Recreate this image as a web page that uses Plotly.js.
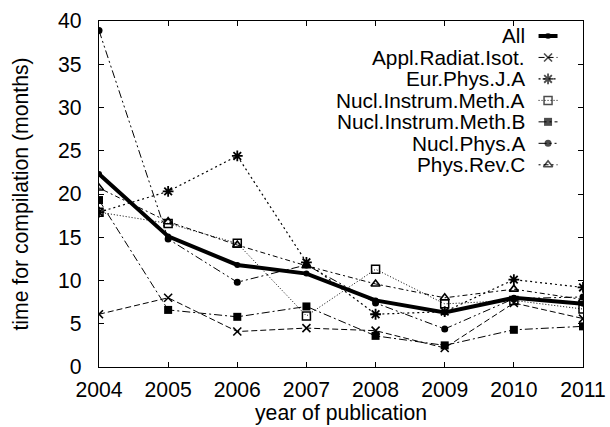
<!DOCTYPE html>
<html>
<head>
<meta charset="utf-8">
<script src="https://cdn.plot.ly/plotly-3.0.1.min.js"></script>
<style>html,body{margin:0;padding:0;background:#fff;}#chart{width:610px;height:427px;}</style>
</head>
<body>
<div id="chart"></div>
<script>
const years = [2004, 2005, 2006, 2007, 2008, 2009, 2010, 2011];
const seriesNames = ["All", "Appl.Radiat.Isot.", "Eur.Phys.J.A", "Nucl.Instrum.Meth.A", "Nucl.Instrum.Meth.B", "Nucl.Phys.A", "Phys.Rev.C"];
const allJournals = [22.3, 15.1, 11.8, 10.8, 7.7, 6.3, 8.0, 7.3];
const applRadiatIsot = [6.1, 8.0, 4.1, 4.5, 4.2, 2.2, 7.4, 5.6];
const eurPhysJA = [17.9, 20.3, 24.4, 12.1, 6.1, 6.4, 10.1, 9.2];
const nuclInstrumMethA = [17.9, 16.6, 14.3, 5.9, 11.3, 7.3, 7.7, 6.7];
const nuclInstrumMethB = [19.3, 6.6, 5.8, 7.0, 3.6, 2.5, 4.3, 4.7];
const nuclPhysA = [38.9, 14.8, 9.8, 11.8, 7.4, 4.4, 7.9, 8.1];
const physRevC = [20.7, 16.8, 14.1, 11.7, 9.6, 8.0, 9.0, 7.8];
const yTicks = [0, 5, 10, 15, 20, 25, 30, 35, 40];
const yTickLabels = ["0", "5", "10", "15", "20", "25", "30", "35", "40"];

const values = [allJournals, applRadiatIsot, eurPhysJA, nuclInstrumMethA, nuclInstrumMethB, nuclPhysA, physRevC];
const styles = [
  {dash: "solid", width: 4, symbol: "circle", size: 6, mlw: 0},
  {dash: "6px,3px", width: 1, symbol: "x-thin", size: 8, mlw: 1.6},
  {dash: "2px,3px", width: 1.2, symbol: "asterisk-open", size: 9, mlw: 1.8},
  {dash: "1px,2px", width: 1, symbol: "square-open", size: 8, mlw: 1.5},
  {dash: "8px,3px,2px,3px", width: 1, symbol: "square", size: 8, mlw: 0},
  {dash: "8px,3px,2px,3px,2px,3px", width: 1, symbol: "circle", size: 7, mlw: 0},
  {dash: "2px,3px,5px,3px", width: 1, symbol: "triangle-up-open", size: 8, mlw: 1.6}
];

const font = "Liberation Sans, Arial, sans-serif";
const fs = 21.2;
const legendFs = 20.8;
const traces = [];
values.forEach((v, i) => {
  const s = styles[i];
  traces.push({
    x: years, y: v, type: "scatter", mode: "lines+markers", name: seriesNames[i],
    line: {color: "#000", width: s.width, dash: s.dash},
    marker: {symbol: s.symbol, size: s.size, color: "#000", line: {color: "#000", width: s.mlw}},
    showlegend: false, hoverinfo: "skip"
  });
});

// legend (gnuplot style: right-aligned text, sample to the right)
const plotL = 99, plotR = 583.5, plotT = 21, plotB = 367.5;
const rowY = [36, 57.5, 79, 100.5, 122, 143.5, 165];
const sx0 = 539, sx1 = 558;
const px2x = p => (p - plotL) / (plotR - plotL);
const py2y = p => (plotB - p) / (plotB - plotT);
const annotations = [];
seriesNames.forEach((n, i) => {
  const s = styles[i];
  const yy = py2y(rowY[i]);
  traces.push({
    x: [px2x(sx0), px2x((sx0 + sx1) / 2), px2x(sx1)], y: [yy, yy, yy],
    xaxis: "x2", yaxis: "y2", type: "scatter", mode: "lines+markers",
    line: {color: "#000", width: s.width, dash: s.dash},
    marker: {symbol: s.symbol, size: [0, s.size, 0], color: "#000", line: {color: "#000", width: s.mlw}},
    showlegend: false, hoverinfo: "skip"
  });
  annotations.push({
    xref: "paper", yref: "paper", x: px2x(526), y: yy, xanchor: "right", yanchor: "middle",
    borderpad: 0,
    text: n, showarrow: false, font: {family: font, size: legendFs, color: "#000"}
  });
});

const layout = {
  width: 610, height: 427,
  margin: {l: plotL, r: 610 - plotR, t: plotT, b: 427 - plotB, pad: 0},
  paper_bgcolor: "#fff", plot_bgcolor: "#fff",
  font: {family: font, size: fs, color: "#000"},
  showlegend: false,
  xaxis: {
    range: [2004, 2011], tickvals: years, ticktext: years.map(String),
    ticks: "inside", ticklen: 5, tickwidth: 1, tickcolor: "#000",
    showline: true, linecolor: "#000", linewidth: 1.3, mirror: "ticks",
    showgrid: false, zeroline: false, ticklabelstandoff: 3,
    tickfont: {family: font, size: fs, color: "#000"},
    title: {text: "year of publication", font: {family: font, size: fs, color: "#000"}, standoff: 3}
  },
  yaxis: {
    range: [0, 40], tickvals: yTicks, ticktext: yTickLabels,
    ticks: "inside", ticklen: 5, tickwidth: 1, tickcolor: "#000",
    showline: true, linecolor: "#000", linewidth: 1.3, mirror: "ticks",
    showgrid: false, zeroline: false, ticklabelstandoff: 12,
    tickfont: {family: font, size: fs, color: "#000"},
    title: {text: "time for compilation (months)", font: {family: font, size: fs, color: "#000"}, standoff: 23}
  },
  xaxis2: {overlaying: "x", range: [0, 1], visible: false, fixedrange: true},
  yaxis2: {overlaying: "y", range: [0, 1], visible: false, fixedrange: true},
  annotations: annotations
};

Plotly.newPlot("chart", traces, layout, {displayModeBar: false, staticPlot: true});
</script>
</body>
</html>
